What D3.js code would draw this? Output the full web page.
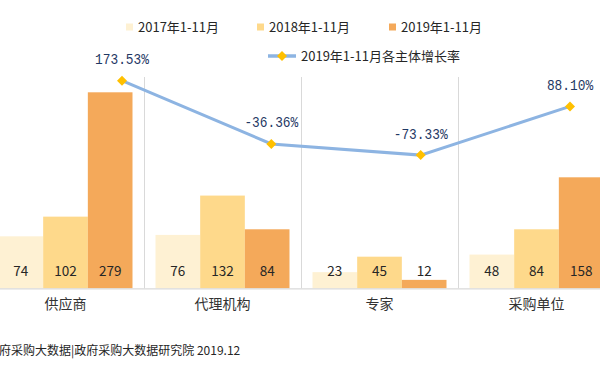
<!DOCTYPE html>
<html>
<head>
<meta charset="utf-8">
<script src="https://cdn.jsdelivr.net/npm/d3@7"></script>
<style>
  html, body { margin: 0; padding: 0; background: #fff; }
  svg { display: block; }
  text { font-family: "Noto Sans CJK SC", "Noto Sans", sans-serif; }
  text.pct { font-family: "Liberation Mono", "DejaVu Sans Mono", monospace; }
</style>
</head>
<body>
<svg id="chart" width="600" height="367"></svg>
<script>
// ---- data ----
const categories = ["供应商", "代理机构", "专家", "采购单位"];
const seriesNames = ["2017年1-11月", "2018年1-11月", "2019年1-11月"];
const values2017 = [74, 76, 23, 48];
const values2018 = [102, 132, 45, 84];
const values2019 = [279, 84, 12, 158];
const growthName = "2019年1-11月各主体增长率";
const growthRates = [173.53, -36.36, -73.33, 88.10];
const growthLabels = ["173.53%", "-36.36%", "-73.33%", "88.10%"];
const sourceText = "府采购大数据|政府采购大数据研究院 2019.12";

// ---- styles ----
const colors = ["#FEF1D3", "#FED98B", "#F4A95A"];
const lineColor = "#8DB4E2";
const markerColor = "#FFC000";
const gridColor = "#D9D9D9";

const svg = d3.select("#chart");
const seriesValues = [values2017, values2018, values2019];

// scales
const x = d3.scaleBand().domain(categories).range([-13, 615]).padding(0);
const xInner = d3.scaleBand().domain(seriesNames).range([11.5, x.bandwidth() - 11.5]).padding(0);
const y = d3.scaleLinear().domain([0, 400]).range([288.3, 7.3]);
const xLine = d3.scalePoint().domain(categories).range([122, 570]);
const y2 = d3.scaleLinear().domain([-100, 200]).range([163.16, 72.68]);

// category separators
svg.append("g").selectAll("line")
  .data(categories.slice(1))
  .join("line")
  .attr("x1", d => Math.round(x(d)) + 0.5)
  .attr("x2", d => Math.round(x(d)) + 0.5)
  .attr("y1", 77)
  .attr("y2", y(0))
  .attr("stroke", gridColor)
  .attr("stroke-width", 1);

// bars
const groups = svg.append("g").selectAll("g")
  .data(categories)
  .join("g")
  .attr("transform", d => `translate(${x(d)},0)`);

groups.selectAll("rect")
  .data((c, i) => seriesNames.map((s, k) => ({ s, k, v: seriesValues[k][i] })))
  .join("rect")
  .attr("x", d => xInner(d.s))
  .attr("width", xInner.bandwidth())
  .attr("y", d => y(d.v))
  .attr("height", d => y(0) - y(d.v))
  .attr("fill", d => colors[d.k]);

groups.selectAll("text.val")
  .data((c, i) => seriesNames.map((s, k) => ({ s, k, v: seriesValues[k][i] })))
  .join("text")
  .attr("class", "val")
  .attr("x", d => xInner(d.s) + xInner.bandwidth() / 2)
  .attr("y", y(0) - 12.5)
  .attr("text-anchor", "middle")
  .attr("font-size", 13.5)
  .attr("fill", "#262626")
  .text(d => d.v);

// baseline axis
const xAxis = d3.axisBottom(x).tickSize(0).tickPadding(10);
const axisG = svg.append("g")
  .attr("transform", `translate(0,${y(0)})`)
  .call(xAxis);
axisG.select(".domain").remove();
axisG.append("line")
  .attr("x1", 0).attr("x2", 600)
  .attr("y1", 0.5).attr("y2", 0.5)
  .attr("stroke", gridColor).attr("stroke-width", 1.2);
axisG.selectAll(".tick text")
  .attr("font-size", 14)
  .attr("fill", "#333")
  .attr("dy", "0.75em");

// growth line
const line = d3.line()
  .x((d, i) => xLine(categories[i]))
  .y(d => y2(d));
svg.append("path")
  .datum(growthRates)
  .attr("d", line)
  .attr("fill", "none")
  .attr("stroke", lineColor)
  .attr("stroke-width", 3);

const diamond = d3.symbol().type(d3.symbolSquare).size(50);
svg.append("g").selectAll("path")
  .data(growthRates)
  .join("path")
  .attr("d", diamond)
  .attr("transform", (d, i) => `translate(${xLine(categories[i])},${y2(d)}) rotate(45)`)
  .attr("fill", markerColor);

svg.append("g").selectAll("text")
  .data(growthRates)
  .join("text")
  .attr("class", "pct")
  .attr("x", (d, i) => xLine(categories[i]))
  .attr("y", d => y2(d) - 16.5)
  .attr("text-anchor", "middle")
  .attr("font-size", 15)
  .attr("textLength", (d, i) => growthLabels[i].length * 7.7)
  .attr("lengthAdjust", "spacingAndGlyphs")
  .attr("fill", "#1F3864")
  .text((d, i) => growthLabels[i]);

// legend
const legendX = [126, 257, 389];
const leg = svg.append("g");
seriesNames.forEach((s, k) => {
  leg.append("rect")
    .attr("x", legendX[k]).attr("y", 23.5)
    .attr("width", 7).attr("height", 7)
    .attr("fill", colors[k]);
  leg.append("text")
    .attr("x", legendX[k] + 12).attr("y", 32)
    .attr("font-size", 13)
    .attr("fill", "#262626")
    .text(s);
});
leg.append("line")
  .attr("x1", 268).attr("x2", 296)
  .attr("y1", 56).attr("y2", 56)
  .attr("stroke", lineColor).attr("stroke-width", 3.5);
leg.append("path")
  .attr("d", diamond)
  .attr("transform", "translate(282,56) rotate(45)")
  .attr("fill", markerColor);
leg.append("text")
  .attr("x", 301).attr("y", 60.5)
  .attr("font-size", 13)
  .attr("fill", "#262626")
  .text(growthName);

// source
svg.append("text")
  .attr("x", -1).attr("y", 355)
  .attr("font-size", 12)
  .attr("fill", "#262626")
  .text(sourceText);
</script>
</body>
</html>
